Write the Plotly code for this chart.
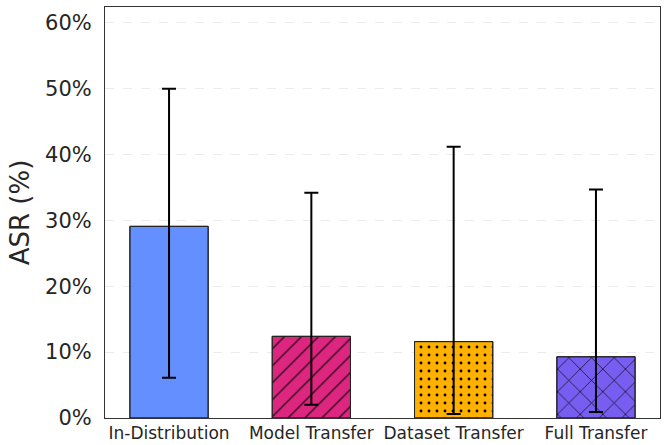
import plotly.graph_objects as go

categories = ["In-Distribution", "Model Transfer", "Dataset Transfer", "Full Transfer"]
asr_mean = [29.1, 12.4, 11.6, 9.3]
err_upper = [20.9, 21.8, 29.6, 25.4]
err_lower = [23.0, 10.4, 11.0, 8.4]
colors = ["#648FFF", "#DC267F", "#FFB000", "#785EF0"]
patterns = ["", "/", ".", "x"]
pattern_sizes = [8, 12, 8, 16]
pattern_solidity = [0.2, 0.09, 0.1, 0.08]
ytick_vals = [0, 10, 20, 30, 40, 50, 60]
ytick_text = ["0%", "10%", "20%", "30%", "40%", "50%", "60%"]

fig = go.Figure()
# solid coloured bars
fig.add_trace(go.Bar(
    x=categories,
    y=asr_mean,
    width=0.55,
    marker=dict(color=colors, line=dict(color="#222222", width=1)),
    showlegend=False, hoverinfo="skip",
))
# black hatch overlay + error bars
fig.add_trace(go.Bar(
    x=categories,
    y=asr_mean,
    width=0.55,
    marker=dict(
        color="rgba(0,0,0,0)",
        line=dict(color="#222222", width=1),
        pattern=dict(shape=patterns, fgcolor="#000000", bgcolor="rgba(0,0,0,0)", fgopacity=1,
                     size=pattern_sizes, solidity=pattern_solidity, fillmode="overlay"),
    ),
    error_y=dict(type="data", symmetric=False, array=err_upper, arrayminus=err_lower,
                 color="#000000", thickness=2, width=7),
    showlegend=False,
))

fig.update_layout(
    width=665, height=445,
    margin=dict(l=105, r=5, t=7, b=27, autoexpand=False),
    paper_bgcolor="white", plot_bgcolor="white",
    font=dict(family="DejaVu Sans", color="#262626"),
    barmode="overlay",
)
fig.update_xaxes(
    range=[-0.45, 3.45], automargin=False,
    showline=True, mirror=True, linecolor="#333333", linewidth=1,
    ticks="", tickfont=dict(size=17, color="#262626"),
    showgrid=False,
)
fig.update_yaxes(
    range=[0, 62.4], automargin=False,
    tickmode="array", tickvals=ytick_vals, ticktext=ytick_text,
    tickfont=dict(size=21, color="#262626"), ticklabelstandoff=8,
    showline=True, mirror=True, linecolor="#333333", linewidth=1,
    ticks="",
    showgrid=True, gridcolor="#ebebeb", griddash="dash", gridwidth=1,
    zeroline=False,
    title=dict(text="ASR (%)", font=dict(size=26, color="#262626"), standoff=8),
)

fig.write_html("out.html", config={"displayModeBar": False},
               post_script="document.body.style.margin='0';document.body.style.overflow='hidden';")
